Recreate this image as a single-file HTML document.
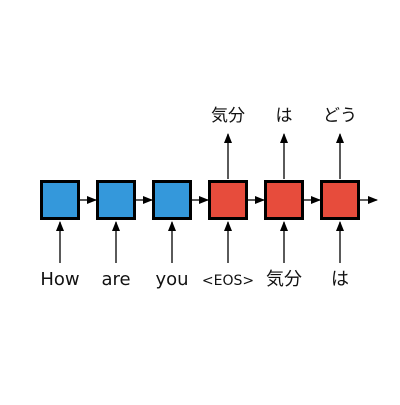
<!DOCTYPE html>
<html><head><meta charset="utf-8"><style>body{margin:0;background:#fff}</style></head>
<body>
<svg width="400" height="400" viewBox="0 0 400 400" xmlns="http://www.w3.org/2000/svg" font-family="'DejaVu Sans','Noto Sans CJK JP',sans-serif">
<defs><marker id="ah" markerWidth="10" markerHeight="8" refX="9" refY="4" orient="auto" markerUnits="userSpaceOnUse"><path d="M0,0 L10,4 L0,8 Z" fill="#000"/></marker></defs>
<g id="g"></g>
</svg>
<script>
const inputs=["How","are","you","<EOS>","気分","は"];
const outputs=["","","","気分","は","どう"];
const colors=["#3498db","#3498db","#3498db","#e74c3c","#e74c3c","#e74c3c"];
const g=document.getElementById('g');const NS="http://www.w3.org/2000/svg";
function mk(t,a){const e=document.createElementNS(NS,t);for(const k in a)e.setAttribute(k,a[k]);g.appendChild(e);return e;}
inputs.forEach((w,i)=>{
 const cx=60+56*i;
 const r=mk('rect',{x:cx-18.5,y:181.5,width:37,height:37,fill:colors[i],stroke:'#000','stroke-width':3});
 
 
 const a=mk('line',{x1:cx,y1:263,x2:cx,y2:222,stroke:'#000','stroke-width':1.3,'marker-end':'url(#ah)'});
 
 
 const h=mk('line',{x1:cx+20,y1:200,x2:cx+(i==5?37:36),y2:200,stroke:'#000','stroke-width':1.3,'marker-end':'url(#ah)'});
 
 
 const t=mk('text',{x:cx,y:285,'text-anchor':'middle','font-size':(i==3?14:18),fill:'#111'});t.textContent=w;
 
 
 if(outputs[i]){
  const u=mk('line',{x1:cx,y1:179,x2:cx,y2:134,stroke:'#000','stroke-width':1.3,'marker-end':'url(#ah)'});
  
  
  const o=mk('text',{x:cx,y:121,'text-anchor':'middle','font-size':17,fill:'#111'});o.textContent=outputs[i];
  
  
 }
});
</script>
</body></html>
